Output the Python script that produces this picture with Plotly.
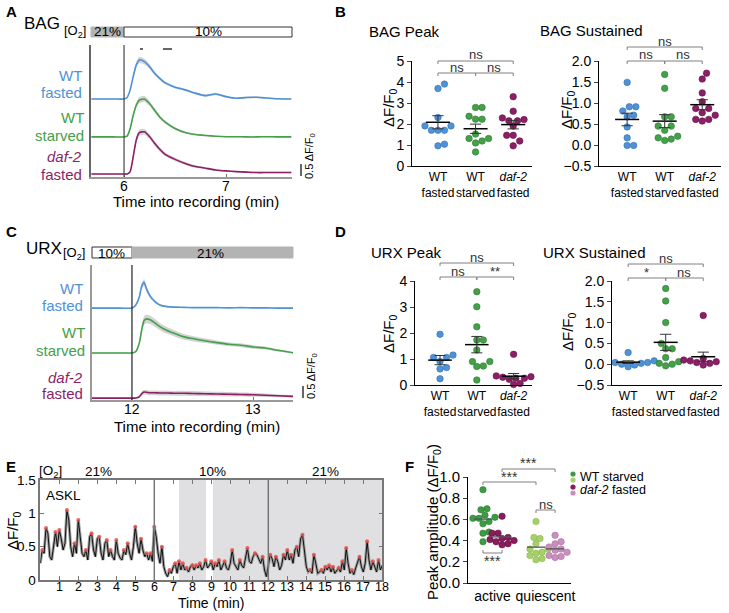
import numpy as np
import plotly.graph_objects as go

W, H = 729, 613
FONT = "Liberation Sans, Arial, Helvetica, sans-serif"

# ---------------- data ----------------
# Panel A (BAG mean traces, dF/F0 relative to baseline)
bag_t = [5.68, 5.8, 5.9, 6.0, 6.03, 6.06, 6.09, 6.12, 6.15, 6.2, 6.25, 6.3, 6.35,
         6.4, 6.5, 6.6, 6.7, 6.8, 6.9, 7.0, 7.1, 7.2, 7.3, 7.4, 7.5, 7.64]
bag_wt_fasted = [0, 0, 0, 0, 0.06, 0.38, 0.93, 1.42, 1.63, 1.56, 1.35, 1.07, 0.86,
                 0.68, 0.49, 0.38, 0.24, 0.14, 0.21, 0.10, 0.03, 0.06, 0.07, 0.04, 0.01, 0]
bag_wt_starved = [0, 0, 0, 0, 0.03, 0.35, 0.90, 1.32, 1.53, 1.58, 1.39, 1.11, 0.83,
                  0.63, 0.35, 0.18, 0.10, 0.06, 0.03, 0.01, 0.01, 0.0, 0.0, 0.01, 0.0, 0.0]
bag_daf2 = [0, 0, 0, 0, 0.0, 0.10, 0.72, 1.42, 1.72, 1.76, 1.56, 1.28, 1.03,
            0.83, 0.61, 0.44, 0.31, 0.24, 0.17, 0.13, 0.10, 0.08, 0.06, 0.06, 0.06, 0.06]
bag_sem_wt_fasted = [0.02, 0.02, 0.02, 0.02, 0.03, 0.08, 0.10, 0.12, 0.13, 0.12, 0.10, 0.08, 0.07,
                     0.06, 0.05, 0.05, 0.05, 0.04, 0.05, 0.04, 0.03, 0.04, 0.04, 0.03, 0.03, 0.03]
bag_sem_wt_starved = [0.02, 0.02, 0.02, 0.02, 0.03, 0.08, 0.10, 0.12, 0.13, 0.12, 0.10, 0.09, 0.07,
                      0.06, 0.05, 0.04, 0.03, 0.03, 0.02, 0.02, 0.02, 0.02, 0.02, 0.02, 0.02, 0.02]
bag_sem_daf2 = [0.02, 0.02, 0.02, 0.02, 0.02, 0.06, 0.10, 0.12, 0.13, 0.12, 0.11, 0.10, 0.09,
                0.08, 0.07, 0.06, 0.05, 0.04, 0.04, 0.03, 0.03, 0.03, 0.03, 0.03, 0.03, 0.03]
bag_xticks = [6, 7]

# Panel C (URX mean traces)
urx_t = [11.67, 11.8, 11.9, 12.0, 12.03, 12.06, 12.08, 12.1, 12.12, 12.15, 12.19, 12.23,
         12.29, 12.35, 12.43, 12.5, 12.6, 12.7, 12.8, 12.9, 13.0, 13.1, 13.2, 13.33]
urx_wt_fasted = [0, 0, 0, 0, 0.12, 0.45, 0.90, 1.07, 0.80, 0.50, 0.27, 0.13,
                 0.06, 0.04, 0.03, 0.02, 0.02, 0.02, 0.01, 0.02, 0.01, 0.01, 0.0, 0.0]
urx_wt_starved = [0, 0, 0, 0, 0.05, 0.40, 0.95, 1.35, 1.42, 1.38, 1.25, 1.10,
                  0.94, 0.82, 0.67, 0.60, 0.51, 0.43, 0.36, 0.32, 0.25, 0.21, 0.11, 0.01]
urx_daf2 = [0, 0, 0, 0, 0.0, 0.05, 0.18, 0.25, 0.24, 0.22, 0.22, 0.21,
            0.21, 0.20, 0.20, 0.19, 0.18, 0.17, 0.16, 0.15, 0.14, 0.12, 0.10, 0.07]
urx_sem_wt_fasted = [0.02, 0.02, 0.02, 0.02, 0.04, 0.08, 0.12, 0.14, 0.12, 0.09, 0.06, 0.04,
                     0.03, 0.03, 0.02, 0.02, 0.02, 0.02, 0.02, 0.02, 0.02, 0.02, 0.02, 0.02]
urx_sem_wt_starved = [0.02, 0.02, 0.02, 0.02, 0.04, 0.10, 0.15, 0.18, 0.18, 0.17, 0.16, 0.15,
                      0.14, 0.13, 0.12, 0.11, 0.10, 0.09, 0.08, 0.08, 0.07, 0.06, 0.05, 0.03]
urx_sem_daf2 = [0.02, 0.02, 0.02, 0.02, 0.02, 0.05, 0.08, 0.10, 0.10, 0.10, 0.10, 0.10,
                0.10, 0.10, 0.10, 0.10, 0.09, 0.09, 0.09, 0.08, 0.08, 0.07, 0.06, 0.05]
urx_xticks = [12, 13]

# Panels B and D (per-animal dF/F0)
bag_peak = {
    "wt_fasted": [3.90, 3.69, 2.31, 1.91, 1.91, 1.70, 1.70, 1.70, 1.04, 0.96],
    "wt_starved": [2.79, 2.79, 2.37, 2.23, 2.23, 1.52, 1.31, 1.31, 1.19, 1.10, 0.67],
    "daf2_fasted": [3.30, 2.61, 2.29, 2.21, 2.15, 2.15, 1.90, 1.46, 1.46, 1.19, 0.96],
}
bag_sustained = {
    "wt_fasted": [1.49, 0.91, 0.91, 0.81, 0.71, 0.67, 0.43, 0.17, -0.01, -0.01],
    "wt_starved": [1.68, 1.35, 0.67, 0.67, 0.45, 0.45, 0.35, 0.21, 0.17, 0.14, 0.11],
    "daf2_fasted": [1.71, 1.57, 1.24, 1.03, 0.87, 0.87, 0.77, 0.71, 0.61, 0.61, 0.57],
}
urx_peak = {
    "wt_fasted": [1.95, 1.15, 1.06, 1.06, 0.90, 0.67, 0.62, 0.24],
    "wt_starved": [3.59, 3.01, 2.24, 1.73, 1.73, 1.35, 0.90, 0.90, 0.73, 0.71, 0.19],
    "daf2_fasted": [1.18, 0.42, 0.35, 0.32, 0.30, 0.26, 0.26, 0.22, 0.06, 0.02],
}
urx_sustained = {
    "wt_fasted": [0.28, 0.08, 0.06, 0.04, 0.04, 0.02, 0.0, -0.02, -0.06],
    "wt_starved": [1.82, 1.52, 1.00, 0.50, 0.37, 0.37, 0.16, 0.06, 0.02, 0.0, -0.04],
    "daf2_fasted": [1.17, 0.14, 0.12, 0.10, 0.08, 0.08, 0.06, 0.04, 0.02, -0.02],
}
cat_labels = ["WT<br>fasted", "WT<br>starved", "<i>daf-2</i><br>fasted"]

# Panel E (ASKL single trace, 0.1 min sampling)
ask_step_min = 0.1
ask_vals = [
    0.25, 0.45, 0.40, 0.78, 0.70, 0.35, 0.30, 0.55, 0.72, 0.50, 0.75,
    0.62, 0.45, 0.55, 1.05, 0.90, 0.50, 0.35, 0.55, 0.40, 0.90,
    0.65, 0.40, 0.35, 0.45, 0.30, 0.65, 0.70, 0.45, 0.35, 0.62,
    0.65, 0.40, 0.30, 0.55, 0.60, 0.35, 0.45, 0.35, 0.30, 0.60,
    0.40, 0.33, 0.30, 0.45, 0.38, 0.55, 0.40, 0.30, 0.50, 0.80,
    0.55, 0.40, 0.62, 0.45, 0.35, 0.40, 0.30, 0.40, 0.28, 0.80,
    0.65, 0.40, 0.25, 0.50, 0.20, 0.10, 0.05, 0.15, 0.10, 0.20,
    0.25, 0.10, 0.28, 0.15, 0.25, 0.15, 0.18, 0.12, 0.20, 0.22,
    0.15, 0.22, 0.18, 0.25, 0.15, 0.20, 0.30, 0.18, 0.22, 0.28,
    0.15, 0.25, 0.20, 0.30, 0.15, 0.22, 0.28, 0.18, 0.15, 0.25,
    0.45, 0.25, 0.20, 0.15, 0.30, 0.22, 0.18, 0.35, 0.48, 0.28,
    0.25, 0.35, 0.40, 0.38, 0.30, 0.25, 0.35, 0.15, 0.05, 0.20,
    0.38, 0.32, 0.20, 0.35, 0.28, 0.15, 0.22, 0.38, 0.30, 0.45,
    0.30, 0.38, 0.25, 0.45, 0.50, 0.35, 0.62, 0.68, 0.45, 0.20,
    0.12, 0.15, 0.10, 0.38, 0.25, 0.10, 0.12, 0.15, 0.10, 0.20,
    0.15, 0.22, 0.12, 0.20, 0.10, 0.15, 0.18, 0.12, 0.28, 0.15,
    0.48, 0.25, 0.10, 0.15, 0.08, 0.18, 0.25, 0.35, 0.20, 0.12,
    0.25, 0.58, 0.30, 0.15, 0.28, 0.18, 0.12, 0.30, 0.15, 0.22,
]
ask_o2_periods = [(7.3, 8.72), (9.08, 18.0)]   # shaded 10% O2 windows
ask_switch_min = [6, 12]
ask_xticks = list(range(1, 19))

# Panel F
f_wt_active = [0.88, 0.70, 0.69, 0.64, 0.62, 0.61, 0.61, 0.58, 0.56, 0.48, 0.47, 0.39]
f_daf2_active = [0.63, 0.47, 0.47, 0.43, 0.42, 0.41, 0.40, 0.39, 0.37, 0.36]
f_wt_quiescent = [0.58, 0.43, 0.42, 0.37, 0.32, 0.32, 0.29, 0.28, 0.26, 0.23, 0.22]
f_daf2_quiescent = [0.45, 0.39, 0.37, 0.34, 0.32, 0.31, 0.29, 0.26, 0.25, 0.24]
f_states = ["active", "quiescent"]

# ---------------- styles ----------------
BLUE, BLUE_E = "#4f92d8", "#3570b0"
GREEN, GREEN_E = "#45a04a", "#2e7a34"
PURPLE, PURPLE_E = "#8c1f66", "#661048"
F_WT_A, F_WT_Q = "#3d9a45", "#a8d06a"
F_DAF_A, F_DAF_Q = "#8a1c5c", "#c98fbd"
BAND = "rgba(175,175,175,0.55)"


def px(x):
    return x / W


def py(y):
    return 1 - y / H


traces = []
shapes = []
anns = []


def txt(x, y, s, size=13, color="black", xanchor="center", yanchor="middle", angle=0):
    anns.append(dict(x=px(x), y=py(y), xref="paper", yref="paper", text=s, showarrow=False,
                     font=dict(family=FONT, size=size, color=color),
                     xanchor=xanchor, yanchor=yanchor, textangle=angle))


def pline(x0, y0, x1, y1, color="black", width=1):
    shapes.append(dict(type="line", xref="paper", yref="paper", x0=px(x0), y0=py(y0),
                       x1=px(x1), y1=py(y1), line=dict(color=color, width=width)))


def prect(x0, y0, x1, y1, fill, lc="black", lw=1):
    shapes.append(dict(type="rect", xref="paper", yref="paper", x0=px(x0), y0=py(y0),
                       x1=px(x1), y1=py(y1), fillcolor=fill, line=dict(color=lc, width=lw)))


def bracket(xa, xb, y, tick=3, color="#808080", up=False):
    d = -tick if up else tick
    pline(xa, y, xb, y, color)
    pline(xa, y, xa, y + d, color)
    pline(xb, y, xb, y + d, color)


def xmap(x0, x1, rng, v):
    return x0 + (v - rng[0]) / (rng[1] - rng[0]) * (x1 - x0)


layout = dict(width=W, height=H, autosize=False, margin=dict(l=0, r=0, t=0, b=0, pad=0),
              paper_bgcolor="white", plot_bgcolor="rgba(0,0,0,0)",
              font=dict(family=FONT, size=13, color="black"), showlegend=False)

# ---------------- Panel A & C: traces ----------------
def trace_panel(xa, ya, t, groups):
    for vals, sem, off, col in groups:
        up = [off + v + s for v, s in zip(vals, sem)]
        lo = [off + v - s for v, s in zip(vals, sem)]
        traces.append(go.Scatter(x=t, y=up, mode="lines", line=dict(width=0, shape="spline", smoothing=0.6),
                                 hoverinfo="skip", xaxis=xa, yaxis=ya, showlegend=False))
        traces.append(go.Scatter(x=t, y=lo, mode="lines", line=dict(width=0, shape="spline", smoothing=0.6),
                                 fill="tonexty", fillcolor=BAND, hoverinfo="skip",
                                 xaxis=xa, yaxis=ya, showlegend=False))
        traces.append(go.Scatter(x=t, y=[off + v for v in vals], mode="lines",
                                 line=dict(color=col, width=1.6, shape="spline", smoothing=0.6),
                                 xaxis=xa, yaxis=ya, showlegend=False))


trace_panel("x", "y", bag_t, [
    (bag_wt_fasted, bag_sem_wt_fasted, 3.25, BLUE),
    (bag_wt_starved, bag_sem_wt_starved, 1.67, GREEN),
    (bag_daf2, bag_sem_daf2, 0.125, PURPLE),
])
trace_panel("x4", "y4", urx_t, [
    (urx_wt_fasted, urx_sem_wt_fasted, 3.83, BLUE),
    (urx_wt_starved, urx_sem_wt_starved, 1.96, GREEN),
    (urx_daf2, urx_sem_daf2, 0.08, PURPLE),
])

A_X0, A_X1, A_XR = 91, 292, [5.676, 7.647]
C_X0, C_X1, C_XR = 92, 293, [11.67, 13.33]
layout["xaxis"] = dict(domain=[px(A_X0), px(A_X1)], range=A_XR, anchor="y",
                       showline=True, linecolor="#999", linewidth=2, ticks="inside", ticklen=3,
                       tickcolor="#777", tickvals=bag_xticks, showticklabels=False,
                       showgrid=False, zeroline=False, automargin=False)
layout["yaxis"] = dict(domain=[py(177), py(45)], range=[0, 5.5], anchor="x", showline=True,
                       linecolor="#666", linewidth=1.5, showticklabels=False, ticks="",
                       showgrid=False, zeroline=False, automargin=False)
layout["xaxis4"] = dict(domain=[px(C_X0), px(C_X1)], range=C_XR, anchor="y4",
                        showline=True, linecolor="#999", linewidth=2, ticks="inside", ticklen=3,
                        tickcolor="#777", tickvals=urx_xticks, showticklabels=False,
                        showgrid=False, zeroline=False, automargin=False)
layout["yaxis4"] = dict(domain=[py(400), py(265)], range=[0, 5.625], anchor="x4", showline=True,
                        linecolor="#999", linewidth=2, showticklabels=False, ticks="",
                        showgrid=False, zeroline=False, automargin=False)
for tv in bag_xticks:
    txt(xmap(A_X0, A_X1, A_XR, tv), 186, str(tv), size=14)
for tv in urx_xticks:
    txt(xmap(C_X0, C_X1, C_XR, tv), 409, str(tv), size=14)

# stimulus lines
shapes.append(dict(type="line", xref="x", yref="y", x0=6, x1=6, y0=0, y1=5.5,
                   line=dict(color="#444", width=1.2)))
shapes.append(dict(type="line", xref="x4", yref="y4", x0=12, x1=12, y0=0, y1=5.625,
                   line=dict(color="#222", width=1.2)))

# A decorations
txt(4, 1, "<b>A</b>", size=15, xanchor="left", yanchor="top")
txt(22, 24, "BAG", size=17, xanchor="left")
prect(91, 27, 124, 37, "#b3b3b3", lc="#b3b3b3", lw=1)
prect(124, 27, 292, 37, "white", lc="#333", lw=1)
txt(107, 32, "21%", size=13.5)
txt(208, 32, "10%", size=13.5)
txt(88, 32, "[O<sub>2</sub>]", size=13, xanchor="right")
pline(140, 49, 143, 49, "#333", 1.5)
pline(163, 49, 172, 49, "#333", 1.5)
txt(84, 76, "WT", size=15, color=BLUE, xanchor="right")
txt(84, 93, "fasted", size=15, color=BLUE, xanchor="right")
txt(86, 117, "WT", size=15, color=GREEN, xanchor="right")
txt(86, 135, "starved", size=15, color=GREEN, xanchor="right")
txt(84, 157, "<i>daf-2</i>", size=15, color=PURPLE, xanchor="right")
txt(84, 174, "fasted", size=15, color=PURPLE, xanchor="right")
pline(301, 164, 301, 176, "black", 1.2)
txt(310, 156, "0.5 ΔF/F<sub>0</sub>", size=11, angle=-90)
txt(196, 202, "Time into recording (min)", size=15)

# C decorations
txt(4, 231, "<b>C</b>", size=15, xanchor="left")
txt(24, 248, "URX", size=17, xanchor="left")
prect(92, 247, 132, 258, "white", lc="#333", lw=1)
prect(132, 247, 293, 258, "#b3b3b3", lc="#b3b3b3", lw=1)
txt(111, 253, "10%", size=13.5)
txt(211, 253, "21%", size=13.5)
txt(87, 253, "[O<sub>2</sub>]", size=13, xanchor="right")
txt(85, 288, "WT", size=15, color=BLUE, xanchor="right")
txt(85, 305, "fasted", size=15, color=BLUE, xanchor="right")
txt(87, 332, "WT", size=15, color=GREEN, xanchor="right")
txt(87, 350, "starved", size=15, color=GREEN, xanchor="right")
txt(85, 377, "<i>daf-2</i>", size=15, color=PURPLE, xanchor="right")
txt(85, 393, "fasted", size=15, color=PURPLE, xanchor="right")
pline(303, 386, 303, 398, "black", 1.2)
txt(312, 376, "0.5 ΔF/F<sub>0</sub>", size=11, angle=-90)
txt(197, 426, "Time into recording (min)", size=15)

# ---------------- Panels B & D: dot plots ----------------
def swarm(vals, ppu_y, ppu_x, d=6.5):
    idx = sorted(range(len(vals)), key=lambda i: vals[i])
    step = d / 3.0
    cands = [0.0]
    for k in range(1, 40):
        cands += [k * step, -k * step]
    placed, offs = [], [0.0] * len(vals)
    for i in idx:
        yv = vals[i] * ppu_y
        for c in cands:
            if all((c - a) ** 2 + (yv - b) ** 2 >= d * d for a, b in placed):
                break
        placed.append((c, yv))
        offs[i] = c / ppu_x
    return offs


def mean_sem(xa, ya, c, vals, half=0.32, cap=0.15, color="black", width=1.5):
    m = float(np.mean(vals))
    s = float(np.std(vals, ddof=1) / np.sqrt(len(vals)))
    traces.append(go.Scatter(x=[c - half, c + half], y=[m, m], mode="lines",
                             line=dict(color=color, width=width), xaxis=xa, yaxis=ya,
                             showlegend=False, hoverinfo="skip"))
    traces.append(go.Scatter(x=[c - cap, c + cap, None, c, c, None, c - cap, c + cap],
                             y=[m + s, m + s, None, m + s, m - s, None, m - s, m - s],
                             mode="lines", line=dict(color="#333", width=1),
                             xaxis=xa, yaxis=ya, showlegend=False, hoverinfo="skip"))


def dot_panel(n, data, ppu_y, ppu_x):
    xa, ya = f"x{n}", f"y{n}"
    cols = [(BLUE, BLUE_E), (GREEN, GREEN_E), (PURPLE, PURPLE_E)]
    keys = ["wt_fasted", "wt_starved", "daf2_fasted"]
    for i, k in enumerate(keys):
        vals = data[k]
        offs = swarm(vals, ppu_y, ppu_x)
        traces.append(go.Scatter(x=[i + 1 + o for o in offs], y=vals, mode="markers",
                                 marker=dict(size=6.5, color=cols[i][0],
                                             line=dict(width=0.6, color=cols[i][1])),
                                 xaxis=xa, yaxis=ya, showlegend=False, cliponaxis=False))
    for i, k in enumerate(keys):
        mean_sem(xa, ya, i + 1, data[k])


def dot_axes(n, x0, x1, y0, y1, xr, yr, dtick, fmt):
    layout[f"xaxis{n}"] = dict(domain=[px(x0), px(x1)], range=xr, anchor=f"y{n}", showline=True,
                               linecolor="black", linewidth=1, ticks="", tickvals=[1, 2, 3],
                               ticktext=cat_labels, tickfont=dict(size=12), tickangle=0,
                               showgrid=False, zeroline=False, automargin=False)
    layout[f"yaxis{n}"] = dict(domain=[py(y1), py(y0)], range=yr, anchor=f"x{n}", showline=True,
                               linecolor="black", linewidth=1, ticks="outside", ticklen=4,
                               dtick=dtick, tick0=0, tickformat=fmt, tickfont=dict(size=14),
                               showgrid=False, zeroline=False, automargin=False)


# axis geometry (pixels)
AX = {
    2: (412, 532, 61, 166, [0.31, 3.5], [0, 5], 1, "d"),
    3: (599, 721, 61, 166, [0.25, 3.5], [-0.5, 2.0], 0.5, ".1f"),
    5: (415, 532, 281, 385, [0.32, 3.5], [0, 4], 1, "d"),
    6: (612, 722, 281, 385, [0.57, 3.5], [-0.5, 2.0], 0.5, ".1f"),
}
for n, (x0, x1, y0, y1, xr, yr, dt, fmt) in AX.items():
    dot_axes(n, x0, x1, y0, y1, xr, yr, dt, fmt)

for n, data in [(2, bag_peak), (3, bag_sustained), (5, urx_peak), (6, urx_sustained)]:
    x0, x1, y0, y1, xr, yr, _, _ = AX[n]
    ppu_y = (y1 - y0) / (yr[1] - yr[0])
    ppu_x = (x1 - x0) / (xr[1] - xr[0])
    dot_panel(n, data, ppu_y, ppu_x)


def catpx(n, c):
    x0, x1, _, _, xr, _, _, _ = AX[n]
    return xmap(x0, x1, xr, c)


def sig_brackets(n, ytop, ylow, labels):
    c1, c2, c3 = catpx(n, 1), catpx(n, 2), catpx(n, 3)
    bracket(c1, c3, ytop)
    txt((c1 + c3) / 2, ytop - 6, labels[0], size=13, color="#333")
    bracket(c1, c2, ylow)
    bracket(c2, c3, ylow)
    txt((c1 + c2) / 2, ylow - 6, labels[1], size=13, color="#333")
    txt((c2 + c3) / 2, ylow - 6, labels[2], size=13, color="#333")


sig_brackets(2, 61, 73, ["ns", "ns", "ns"])
sig_brackets(3, 47, 61, ["ns", "ns", "ns"])
sig_brackets(5, 263, 277, ["ns", "ns", "**"])
sig_brackets(6, 264, 278, ["ns", "*", "ns"])

txt(333, 1, "<b>B</b>", size=15, xanchor="left", yanchor="top")
txt(367, 32, "BAG Peak", size=15, xanchor="left")
txt(538, 31, "BAG Sustained", size=15, xanchor="left")
txt(390, 108, "ΔF/F<sub>0</sub>", size=15, angle=-90)
txt(567, 110, "ΔF/F<sub>0</sub>", size=15, angle=-90)
txt(333, 231, "<b>D</b>", size=15, xanchor="left")
txt(369, 252, "URX Peak", size=15, xanchor="left")
txt(541, 252, "URX Sustained", size=15, xanchor="left")
txt(389, 334, "ΔF/F<sub>0</sub>", size=15, angle=-90)
txt(568, 332, "ΔF/F<sub>0</sub>", size=15, angle=-90)

# ---------------- Panel E ----------------
ask_t = [i * ask_step_min for i in range(len(ask_vals))]
for a, b in ask_o2_periods:
    shapes.append(dict(type="rect", xref="x7", yref="y7", x0=a, x1=b, y0=0, y1=1.5,
                       fillcolor="#e0e0e2", line=dict(width=0), layer="below"))
for s in ask_switch_min:
    shapes.append(dict(type="line", xref="x7", yref="y7", x0=s, x1=s, y0=0, y1=1.5,
                       line=dict(color="#777", width=1.5)))
traces.append(go.Scatter(x=ask_t, y=ask_vals, mode="lines", line=dict(color="#a0a0a0", width=3),
                         xaxis="x7", yaxis="y7", showlegend=False, hoverinfo="skip"))
traces.append(go.Scatter(x=ask_t, y=ask_vals, mode="lines", line=dict(color="black", width=0.9),
                         xaxis="x7", yaxis="y7", showlegend=False))
pk_t, pk_v = [], []
for i in range(1, len(ask_vals) - 1):
    if ask_vals[i] > ask_vals[i - 1] and ask_vals[i] >= ask_vals[i + 1]:
        pk_t.append(ask_t[i])
        pk_v.append(ask_vals[i])
traces.append(go.Scatter(x=pk_t, y=pk_v, mode="markers",
                         marker=dict(size=4, color="rgba(230,80,75,0.85)"),
                         xaxis="x7", yaxis="y7", showlegend=False))
E_X0, E_X1, E_XR = 40.3, 382.3, [0, 18]
layout["xaxis7"] = dict(domain=[px(E_X0), px(E_X1)], range=E_XR, anchor="y7", showline=True,
                        mirror="allticks", linecolor="#777", linewidth=1.5, ticks="inside",
                        ticklen=4, tickcolor="#777", tickvals=ask_xticks, showticklabels=False,
                        showgrid=False, zeroline=False, automargin=False)
layout["yaxis7"] = dict(domain=[py(580), py(480)], range=[0, 1.5], anchor="x7", showline=True,
                        mirror="allticks", linecolor="#777", linewidth=1.5, ticks="inside",
                        ticklen=4, tickcolor="#777", tickvals=[0, 0.5, 1, 1.5],
                        ticktext=["0", "0.5", "1", "1.5"], tickfont=dict(size=13.5),
                        showgrid=False, zeroline=False, automargin=False)
for tv in ask_xticks:
    txt(xmap(E_X0, E_X1, E_XR, tv), 587, str(tv), size=12.5)
txt(4, 466, "<b>E</b>", size=15, xanchor="left")
txt(50, 471, "[O<sub>2</sub>]", size=13.5)
txt(98, 471, "21%", size=13.5)
txt(212, 471, "10%", size=13.5)
txt(325, 471, "21%", size=13.5)
txt(44, 495, "ASKL", size=13.5, xanchor="left")
txt(13, 531, "ΔF/F<sub>0</sub>", size=15, angle=-90)
txt(211, 613, "Time (min)", size=14, yanchor="bottom")

# ---------------- Panel F ----------------
F_X0, F_X1, F_Y0, F_Y1 = 468, 571, 477, 583
F_XR, F_YR = [0.538, 2.48], [0, 1.0]
layout["xaxis8"] = dict(domain=[px(F_X0), px(F_X1)], range=F_XR, anchor="y8", showline=True,
                        linecolor="black", linewidth=1, ticks="", tickvals=[1, 2], tickangle=0,
                        ticktext=f_states, tickfont=dict(size=14), showgrid=False, zeroline=False,
                        automargin=False)
layout["yaxis8"] = dict(domain=[py(F_Y1), py(F_Y0)], range=F_YR, anchor="x8", showline=True,
                        linecolor="black", linewidth=1, ticks="outside", ticklen=4, dtick=0.2,
                        tickformat=".1f", tickfont=dict(size=15), showgrid=False, zeroline=False,
                        automargin=False)
f_ppu_y = (F_Y1 - F_Y0) / (F_YR[1] - F_YR[0])
f_ppu_x = (F_X1 - F_X0) / (F_XR[1] - F_XR[0])
sub = 0.18
f_groups = [
    (f_wt_active, 1 - sub, F_WT_A, "#2a7a32"),
    (f_daf2_active, 1 + sub, F_DAF_A, "#5e0f3e"),
    (f_wt_quiescent, 2 - sub, F_WT_Q, "#86b04c"),
    (f_daf2_quiescent, 2 + sub, F_DAF_Q, "#a86d9c"),
]
for vals, c, col, edge in f_groups:
    offs = swarm(vals, f_ppu_y, f_ppu_x, d=6.0)
    traces.append(go.Scatter(x=[c + o for o in offs], y=vals, mode="markers",
                             marker=dict(size=6.5, color=col, line=dict(width=0.5, color=edge)),
                             xaxis="x8", yaxis="y8", showlegend=False, cliponaxis=False))
for vals, c, col, edge in f_groups:
    m = float(np.mean(vals))
    traces.append(go.Scatter(x=[c - 0.17, c + 0.17], y=[m, m], mode="lines",
                             line=dict(color="#555", width=1.3), xaxis="x8", yaxis="y8",
                             showlegend=False, hoverinfo="skip"))


def fpx(c):
    return xmap(F_X0, F_X1, F_XR, c)


bracket(fpx(1 + sub), fpx(2 + sub), 469)
txt((fpx(1 + sub) + fpx(2 + sub)) / 2, 463, "***", size=14, color="#333")
bracket(fpx(1 - sub), fpx(2 - sub), 482)
txt((fpx(1 - sub) + fpx(2 - sub)) / 2, 477, "***", size=14, color="#333")
bracket(fpx(2 - sub), fpx(2 + sub), 510)
txt(fpx(2), 504, "ns", size=13, color="#333")
bracket(fpx(1 - sub), fpx(1 + sub), 553, up=True)
txt(fpx(1), 561, "***", size=14, color="#333")

txt(403, 466, "<b>F</b>", size=15, xanchor="left")
txt(433, 522, "Peak amplitude (ΔF/F<sub>0</sub>)", size=15, angle=-90)
for (cx, cy, col) in [(573, 474, F_WT_A), (573, 480, F_WT_Q), (573, 487, F_DAF_A), (573, 493, F_DAF_Q)]:
    shapes.append(dict(type="circle", xref="paper", yref="paper", x0=px(cx - 2.6), x1=px(cx + 2.6),
                       y0=py(cy + 2.6), y1=py(cy - 2.6), fillcolor=col, line=dict(width=0)))
txt(578, 476.5, "WT starved", size=12.5, xanchor="left")
txt(578, 490.5, "<i>daf-2</i> fasted", size=12.5, xanchor="left")

layout["shapes"] = shapes
layout["annotations"] = anns
fig = go.Figure(data=traces, layout=layout)
fig.write_html("out.html", config={"displayModeBar": False},
               post_script="document.body.style.margin='0';document.body.style.overflow='hidden';")
